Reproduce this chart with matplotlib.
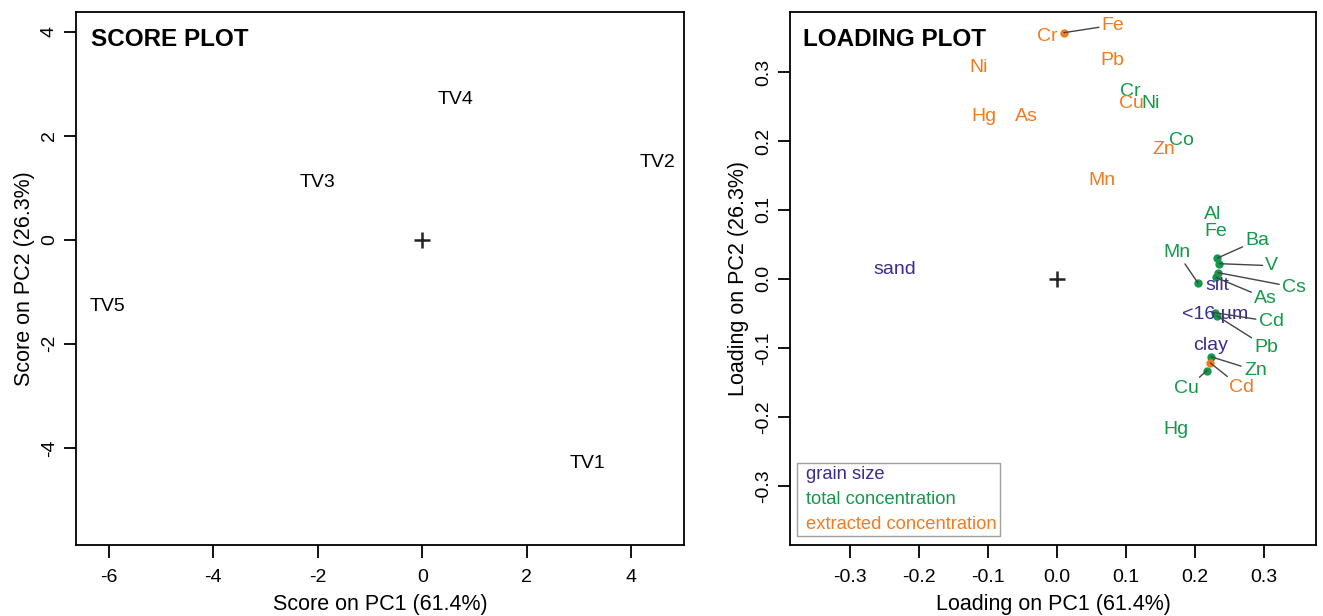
import matplotlib
matplotlib.use("Agg")
import matplotlib.pyplot as plt
from matplotlib.lines import Line2D

plt.rcParams['font.family'] = ['Liberation Sans', 'DejaVu Sans']
plt.rcParams['axes.unicode_minus'] = False

GREEN = '#12994a'
ORANGE = '#f47a1f'
BLUE = '#3b2c8e'

# score plot data
samples = ['TV1', 'TV2', 'TV3', 'TV4', 'TV5']
pc1_scores = [3.17, 4.51, -2.0, 0.63, -6.02]
pc2_scores = [-4.31, 1.48, 1.10, 2.69, -1.29]

# loading plot: labels placed at the point (no leader line)
grain_names = ['sand', 'silt', '<16 µm', 'clay']
grain_x = [-0.235, 0.232, 0.229, 0.222]
grain_y = [0.013, -0.009, -0.052, -0.097]

total_names = ['Cr', 'Ni', 'Co', 'Al', 'Fe', 'Hg']
total_x = [0.106, 0.136, 0.180, 0.225, 0.230, 0.172]
total_y = [0.272, 0.255, 0.200, 0.093, 0.068, -0.218]

extr_names = ['Cr', 'Ni', 'Pb', 'Hg', 'As', 'Cu', 'Zn', 'Mn']
extr_x = [-0.0145, -0.114, 0.080, -0.106, -0.045, 0.107, 0.155, 0.065]
extr_y = [0.352, 0.307, 0.316, 0.235, 0.235, 0.255, 0.187, 0.143]

# repelled labels: point, then label position
total_rep_names = ['Ba', 'V', 'Cs', 'As', 'Mn', 'Cd', 'Pb', 'Zn', 'Cu']
total_rep_px = [0.232, 0.235, 0.233, 0.230, 0.204, 0.228, 0.232, 0.223, 0.217]
total_rep_py = [0.030, 0.022, 0.009, 0.002, -0.006, -0.049, -0.054, -0.113, -0.133]
total_rep_lx = [0.290, 0.311, 0.343, 0.302, 0.174, 0.310, 0.303, 0.287, 0.188]
total_rep_ly = [0.056, 0.019, -0.012, -0.028, 0.038, -0.062, -0.099, -0.133, -0.159]

extr_rep_names = ['Fe', 'Cd']
extr_rep_px = [0.010, 0.222]
extr_rep_py = [0.357, -0.122]
extr_rep_lx = [0.081, 0.267]
extr_rep_ly = [0.368, -0.158]

fig = plt.figure(figsize=(13.23, 6.16), dpi=100)
W, H = 1323, 616
ax1 = fig.add_axes([76 / W, (H - 545) / H, (684 - 76) / W, (545 - 12) / H])
ax2 = fig.add_axes([790 / W, (H - 545) / H, (1316 - 790) / W, (545 - 12) / H])

tick_fs = 14
lab_fs = 15.5
txt_fs = 14

for ax in (ax1, ax2):
    for s in ax.spines.values():
        s.set_linewidth(1.3)
    ax.tick_params(direction='out', length=9, width=1.3, labelsize=tick_fs)
    ax.tick_params(axis='x', pad=8)
    ax.tick_params(axis='y', pad=4)

# score plot
ax1.set_xlim(-6.63, 5.01)
ax1.set_ylim(-5.87, 4.38)
ax1.set_xticks([-6, -4, -2, 0, 2, 4])
ax1.set_yticks([-4, -2, 0, 2, 4])
for t in ax1.get_yticklabels():
    t.set_va('center')
    t.set_rotation(90)
for name, x, y in zip(samples, pc1_scores, pc2_scores):
    ax1.text(x, y, name, ha='center', va='center', fontsize=txt_fs)
ax1.plot([0], [0], marker='+', color='#222222', markersize=12, mew=1.8)
ax1.text(0.025, 0.97, 'SCORE PLOT', transform=ax1.transAxes, fontsize=17.5,
         fontweight='bold', ha='left', va='top')
ax1.set_xlabel('Score on PC1 (61.4%)', fontsize=lab_fs, labelpad=6)
ax1.set_ylabel('Score on PC2 (26.3%)', fontsize=lab_fs, labelpad=4)

# loading plot
ax2.set_xlim(-0.387, 0.375)
ax2.set_ylim(-0.386, 0.387)
ax2.set_xticks([-0.3, -0.2, -0.1, 0.0, 0.1, 0.2, 0.3])
ax2.set_yticks([-0.3, -0.2, -0.1, 0.0, 0.1, 0.2, 0.3])
ax2.set_xticklabels(['-0.3', '-0.2', '-0.1', '0.0', '0.1', '0.2', '0.3'])
ax2.set_yticklabels(['-0.3', '-0.2', '-0.1', '0.0', '0.1', '0.2', '0.3'])
for t in ax2.get_yticklabels():
    t.set_va('center')
    t.set_rotation(90)

ax2.plot([0], [0], marker='+', color='#222222', markersize=12, mew=1.8)

for names, xs, ys, c in [(grain_names, grain_x, grain_y, BLUE),
                         (total_names, total_x, total_y, GREEN),
                         (extr_names, extr_x, extr_y, ORANGE)]:
    for n, x, y in zip(names, xs, ys):
        ax2.text(x, y, n, color=c, ha='center', va='center', fontsize=txt_fs, zorder=4)

for names, pxs, pys, lxs, lys, c in [
        (total_rep_names, total_rep_px, total_rep_py, total_rep_lx, total_rep_ly, GREEN),
        (extr_rep_names, extr_rep_px, extr_rep_py, extr_rep_lx, extr_rep_ly, ORANGE)]:
    for n, px, py, lx, ly in zip(names, pxs, pys, lxs, lys):
        ax2.annotate(n, xy=(px, py), xytext=(lx, ly), color=c, ha='center', va='center',
                     fontsize=txt_fs, zorder=4,
                     arrowprops=dict(arrowstyle='-', color='#444444', lw=1.0,
                                     shrinkA=0, shrinkB=0))
        ax2.plot([px], [py], 'o', color=c, markersize=5, zorder=3)

ax2.text(0.025, 0.97, 'LOADING PLOT', transform=ax2.transAxes, fontsize=17.5,
         fontweight='bold', ha='left', va='top')
ax2.set_xlabel('Loading on PC1 (61.4%)', fontsize=lab_fs, labelpad=6)
ax2.set_ylabel('Loading on PC2 (26.3%)', fontsize=lab_fs, labelpad=4)

handles = [Line2D([], [], linestyle='none') for _ in range(3)]
leg = ax2.legend(handles, ['grain size', 'total concentration', 'extracted concentration'],
                 loc='lower left', bbox_to_anchor=(-0.004, 0.0), handlelength=0,
                 handletextpad=0.35, fancybox=False, edgecolor='#888888',
                 labelcolor=[BLUE, GREEN, ORANGE], fontsize=13.2,
                 borderpad=0.15, labelspacing=0.45, borderaxespad=0.5)
leg.get_frame().set_linewidth(1.0)

fig.savefig('out.png', dpi=100)
